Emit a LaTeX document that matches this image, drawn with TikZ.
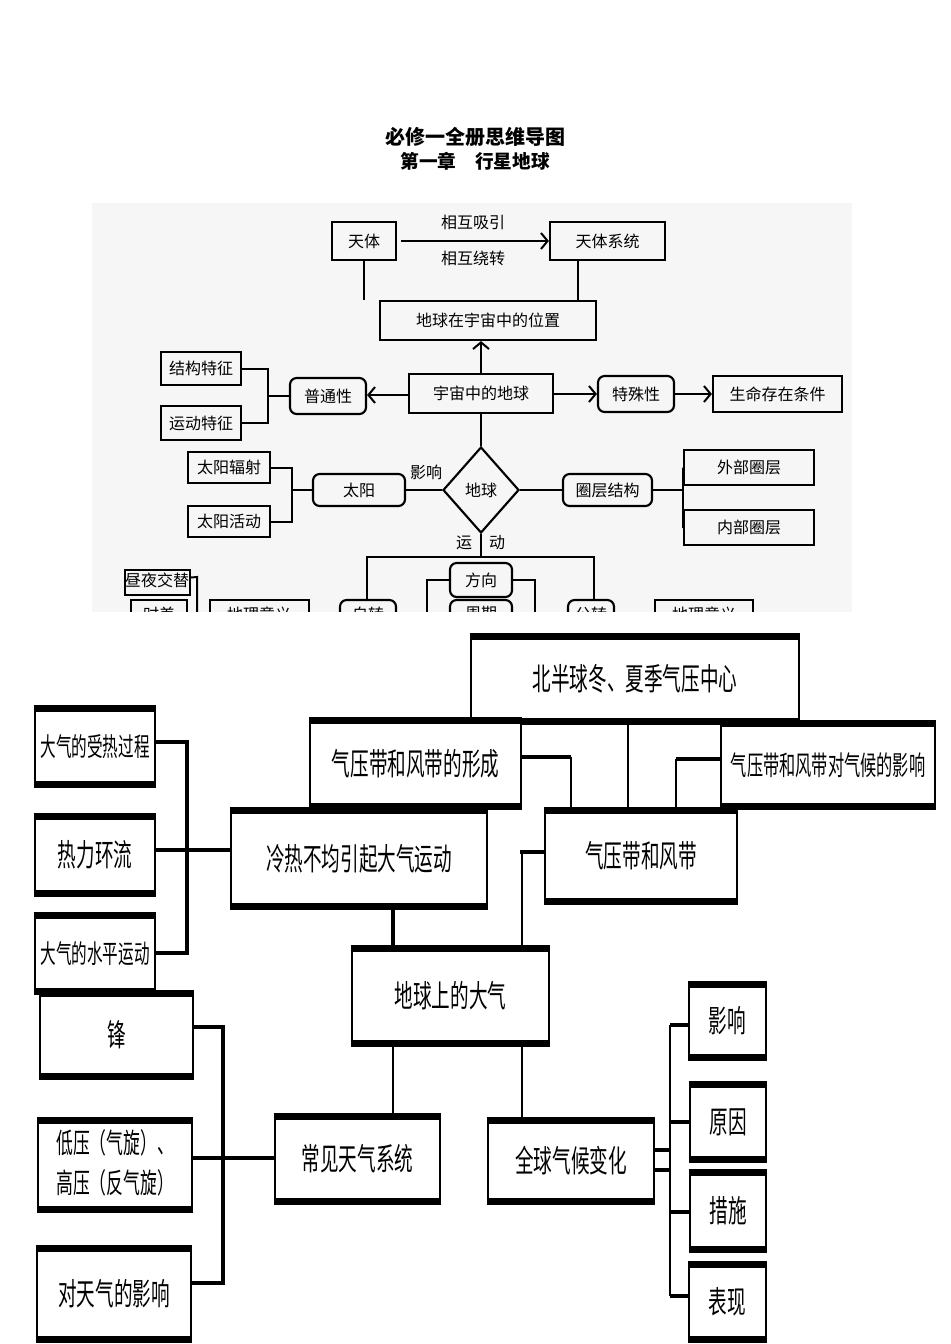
\documentclass[tikz,border=0pt]{standalone}
\usepackage{fontspec}
\usepackage{graphicx}
\setmainfont{Noto Sans CJK SC}
\usetikzlibrary{arrows.meta,shapes.geometric}
\newcommand\bx[6]{%
 \node[bx,minimum width={(#4-(#2))*0.75pt},minimum height={(#5-(#3))*0.75pt}] (#1) at ({(#2+#4)/2},{(#3+#5)/2}) {\scalebox{0.9}[1.5]{#6}};
 \draw[line width=5pt] (#1.north west) -- (#1.north east);
 \draw[line width=5pt] (#1.south west) -- (#1.south east);}
\newcommand\tb[6]{%
 \node[tbox,#6,minimum width={(#4-(#2))*0.75pt},minimum height={(#5-(#3))*0.75pt}] (#1) at ({(#2+#4)/2},{(#3+#5)/2}) {};}
\begin{document}
\begin{tikzpicture}[x=0.75pt,y=-0.75pt,
 tbox/.style={draw,line width=1.6pt,inner sep=0pt,font=\fontsize{12}{14}\selectfont},
 bx/.style={draw,line width=2pt,inner sep=0pt,fill=white,font=\fontsize{15.5}{17}\selectfont},
 tl/.style={line width=1.5pt},
 arr/.style={line width=1.5pt,-{Straight Barb[length=5pt,width=12pt,line width=1.5pt]}},
 th/.style={line width=3.5pt},
 tn/.style={line width=1.6pt}]
\useasboundingbox (0,0) rectangle (950,1344);
\fill[white] (0,0) rectangle (950,1344);
\node[font=\bfseries\fontsize{15}{17}\selectfont] (t1) at (475,137) {必修一全册思维导图};
\node[font=\bfseries\fontsize{14}{16}\selectfont] (t2) at (475,161) {第一章　行星地球};
\fill[gray!7] (92,203) rectangle (852,612);
% top panel
\tb{tianti}{332}{222}{396}{260}{}
\node[font=\fontsize{12}{14}\selectfont] at (tianti) {天体};
\tb{xitong}{550}{222}{665}{260}{}
\node[font=\fontsize{12}{14}\selectfont] at (xitong) {天体系统};
\draw[arr] (tianti.east) ++(4,0) coordinate (a1) -- (xitong.west);
\node[font=\fontsize{12}{14}\selectfont] (l1) at (473,222) {相互吸引};
\node[font=\fontsize{12}{14}\selectfont] (l2) at (473,258) {相互绕转};
\tb{weizhi}{380}{301}{596}{340}{}
\node[font=\fontsize{12}{14}\selectfont] at (weizhi) {地球在宇宙中的位置};
\draw[tl] (tianti.south -| 364,0) -- (weizhi.north -| 364,0);
\draw[tl] (xitong.south -| 578,0) -- (weizhi.north -| 578,0);
\tb{yuzhou}{409}{374}{553}{413}{}
\node[font=\fontsize{12}{14}\selectfont] at (yuzhou) {宇宙中的地球};
\draw[arr] (yuzhou.north) -- (weizhi.south -| yuzhou.north);
\tb{putong}{290}{378}{366}{414}{rounded corners=5pt}
\node[font=\fontsize{12}{14}\selectfont] at (putong) {普通性};
\draw[arr] (yuzhou.west |- 0,395) -- (putong.east |- 0,395);
\tb{teshu}{598}{376}{674}{412}{rounded corners=5pt}
\node[font=\fontsize{12}{14}\selectfont] at (teshu) {特殊性};
\draw[arr] (yuzhou.east |- 0,394) -- (teshu.west |- 0,394);
\tb{shengming}{713}{376}{842}{412}{}
\node[font=\fontsize{12}{14}\selectfont] at (shengming) {生命存在条件};
\draw[arr] (teshu.east) -- (shengming.west);
\tb{jiegou}{161}{352}{241}{385}{}
\node[font=\fontsize{12}{14}\selectfont] at (jiegou) {结构特征};
\tb{yundong}{161}{406}{241}{440}{}
\node[font=\fontsize{12}{14}\selectfont] at (yundong) {运动特征};
\draw[tl] (jiegou.east) -- (268,368.5) -- (268,423) -- (yundong.east);
\draw[tl] (268,396) -- (putong.west);
\node[diamond,draw,line width=1.6pt,minimum width=76*0.75pt,minimum height=86*0.75pt,inner sep=0pt,font=\fontsize{12}{14}\selectfont] (diqiu) at (481,490) {地球};
\draw[tl] (yuzhou.south) -- (diqiu.north);
\tb{taiyang}{313}{474}{405}{506}{rounded corners=5pt}
\node[font=\fontsize{12}{14}\selectfont] at (taiyang) {太阳};
\draw[tl] (taiyang.east) -- (diqiu.west);
\node[font=\fontsize{12}{14}\selectfont] (l3) at (426,472) {影响};
\tb{fushe}{188}{452}{270}{483}{}
\node[font=\fontsize{12}{14}\selectfont] at (fushe) {太阳辐射};
\tb{huodong}{188}{506}{270}{537}{}
\node[font=\fontsize{12}{14}\selectfont] at (huodong) {太阳活动};
\draw[tl] (fushe.east) -- (292,467.5) -- (292,521.5) -- (huodong.east);
\draw[tl] (292,490) -- (taiyang.west);
\tb{quanceng}{563}{474}{652}{506}{rounded corners=5pt}
\node[font=\fontsize{12}{14}\selectfont] at (quanceng) {圈层结构};
\draw[tl] (diqiu.east) -- (quanceng.west);
\tb{waibu}{684}{450}{814}{485}{}
\node[font=\fontsize{12}{14}\selectfont] at (waibu) {外部圈层};
\tb{neibu}{684}{510}{814}{545}{}
\node[font=\fontsize{12}{14}\selectfont] at (neibu) {内部圈层};
\draw[tl] (quanceng.east) -- (683,490);
\draw[tl] (waibu.west) -- (683,467.5) -- (683,527.5) -- (neibu.west);
\node[font=\fontsize{12}{14}\selectfont] (l4) at (464,543) {运};
\node[font=\fontsize{12}{14}\selectfont] (l5) at (497,543) {动};
\tb{zizhuan}{340}{600}{396}{640}{rounded corners=5pt}
\node[font=\fontsize{12}{14}\selectfont] at (368,614) {自转};
\tb{gongzhuan}{568}{600}{614}{640}{rounded corners=5pt}
\node[font=\fontsize{12}{14}\selectfont] at (591,614) {公转};
\draw[tl] (diqiu.south) -- (481,557);
\draw[tl] (367,600) -- (367,557) -- (594,557) -- (594,600);
\tb{fangxiang}{450}{563}{512}{597}{rounded corners=5pt}
\node[font=\fontsize{12}{14}\selectfont] at (fangxiang) {方向};
\tb{zhouqi}{450}{600}{512}{640}{rounded corners=5pt}
\node[font=\fontsize{12}{14}\selectfont] at (481,614) {周期};
\draw[tl] (fangxiang.west) -- (427,580) -- (427,620);
\draw[tl] (fangxiang.east) -- (535,580) -- (535,620);
\tb{zhouye}{125}{570}{190}{595}{}
\node[font=\fontsize{12}{14}\selectfont] at (157,580) {昼夜交替};
\draw[tl] (zhouye.east) ++(0,-5) -- (197,577) -- (197,620);
\tb{shicha}{131}{600}{187}{640}{}
\node[font=\fontsize{12}{14}\selectfont] at (159,614) {时差};
\tb{yiyi1}{210}{600}{309}{640}{}
\node[font=\fontsize{12}{14}\selectfont] at (259,614) {地理意义};
\tb{yiyi2}{655}{600}{753}{640}{}
\node[font=\fontsize{12}{14}\selectfont] at (704,614) {地理意义};
% lower panel
\fill[white] (35,612) rectangle (942,1344);
\draw[th] (310,722) -- (935,722);
\bx{beiban}{471}{638}{799}{720}{北半球冬、夏季气压中心}
\bx{xingcheng}{310}{722}{521}{805}{气压带和风带的形成}
\bx{yingxiangqh}{721}{725}{935}{805}{\fontsize{13.5}{15}\selectfont 气压带和风带对气候的影响}
\bx{shoure}{35}{710}{155}{783}{\fontsize{13}{14}\selectfont 大气的受热过程}
\bx{reli}{35}{818}{155}{892}{热力环流}
\bx{shuiping}{35}{917}{155}{990}{\fontsize{13}{14}\selectfont 大气的水平运动}
\bx{lengre}{231}{812}{487}{905}{冷热不均引起大气运动}
\bx{qiya}{545}{812}{737}{900}{气压带和风带}
\bx{daqi}{352}{950}{549}{1042}{地球上的大气}
\bx{feng}{40}{995}{193}{1075}{锋}
\bx{diya}{38}{1122}{192}{1208}{\fontsize{14}{20}\selectfont\begin{tabular}{@{}c@{}}低压（气旋）、\\高压（反气旋）\end{tabular}}
\bx{duitianqi}{37}{1250}{191}{1338}{对天气的影响}
\bx{changjian}{275}{1118}{440}{1200}{常见天气系统}
\bx{quanqiu}{488}{1122}{654}{1200}{全球气候变化}
\bx{yx}{689}{986}{766}{1056}{影响}
\bx{yy}{690}{1086}{766}{1158}{原因}
\bx{cs}{690}{1174}{766}{1248}{措施}
\bx{bx}{689}{1266}{766}{1338}{表现}
% lower connectors
\draw[th] (shoure.east |- 0,742) -- (187,742) -- (187,953) -- (shuiping.east |- 0,953);
\draw[th] (reli.east |- 0,850) -- (lengre.west |- 0,850);
\draw[th] (lengre.south -| 393,0) -- (daqi.north -| 393,0);
\draw[tn] (daqi.north -| 522,0) -- (522,852);
\draw[th] (520,852) -- (qiya.west |- 0,852);
\draw[th] (xingcheng.east |- 0,757) -- (571,757);
\draw[tn] (571,757) -- (qiya.north -| 571,0);
\draw[tn] (beiban.south -| 628,0) -- (qiya.north -| 628,0);
\draw[tn] (qiya.north -| 676,0) -- (676,759);
\draw[th] (676,759) -- (yingxiangqh.west |- 0,759);
\draw[tn] (daqi.south -| 393,0) -- (changjian.north -| 393,0);
\draw[tn] (daqi.south -| 522,0) -- (quanqiu.north -| 522,0);
\draw[th] (feng.east |- 0,1027) -- (223,1027) -- (223,1283) -- (duitianqi.east |- 0,1283);
\draw[th] (diya.east |- 0,1158) -- (changjian.west |- 0,1158);
\draw[th] (quanqiu.east |- 0,1150) -- (670,1150);
\draw[th] (quanqiu.east |- 0,1170) -- (670,1170);
\draw[tn] (670,1025) -- (670,1296);
\draw[th] (670,1025) -- (yx.west |- 0,1025);
\draw[th] (670,1122) -- (yy.west |- 0,1122);
\draw[th] (670,1212) -- (cs.west |- 0,1212);
\draw[th] (670,1296) -- (bx.west |- 0,1296);
\end{tikzpicture}
\end{document}
